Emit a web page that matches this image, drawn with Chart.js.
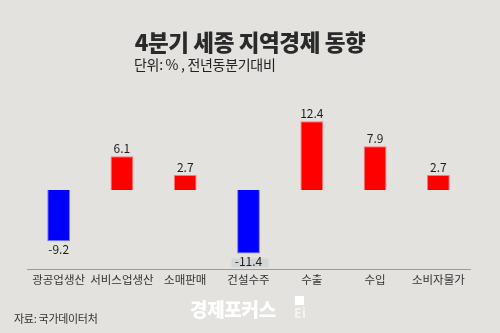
<!DOCTYPE html>
<html><head><meta charset="utf-8">
<script src="https://cdn.jsdelivr.net/npm/chart.js@4.4.1/dist/chart.umd.min.js"></script>
<style>
html,body{margin:0;padding:0;background:#e3e2de;}
#wrap{position:relative;width:500px;height:333px;overflow:hidden;background:#e3e2de;font-family:"Noto Sans CJK KR","Noto Sans",sans-serif;}
canvas{position:absolute;left:0;top:0;}
.t{position:absolute;white-space:nowrap;}
#title{left:0;width:500px;text-align:center;top:25px;font-size:22.5px;font-weight:800;color:#2a2a2a;letter-spacing:-0.4px;}
#sub{left:134px;top:54px;font-size:14px;color:#222;letter-spacing:-0.3px;}
#src{left:14px;top:310px;font-size:11px;color:#333;letter-spacing:-0.3px;}
#wm{left:190px;top:295px;font-size:19px;font-weight:900;color:#ffffff;letter-spacing:-0.3px;}
#wmi{position:absolute;left:295px;top:296px;width:9px;height:9px;background:#ffffff;}
#wmt{left:294px;top:303px;font-size:13px;font-weight:700;color:#f4f4f2;}
</style></head>
<body><div id="wrap">
<canvas id="c" width="500" height="333"></canvas>
<div class="t" id="title">4분기 세종 지역경제 동향</div>
<div class="t" id="sub">단위: % , 전년동분기대비</div>
<div class="t" id="src">자료: 국가데이터처</div>
<div class="t" id="wm">경제포커스</div>
<div id="wmi"></div>
<div class="t" id="wmt">Ei</div>
</div>
<script>
const categories = ["광공업생산","서비스업생산","소매판매","건설수주","수출","수입","소비자물가"];
const values = [-9.2, 6.1, 2.7, -11.4, 12.4, 7.9, 2.7];
const valueLabels = ["-9.2","6.1","2.7","-11.4","12.4","7.9","2.7"];

const labelPlugin = {
  id:'valLabels',
  afterDatasetsDraw(chart){
    const ctx = chart.ctx;
    const meta = chart.getDatasetMeta(0);
    ctx.save();
    ctx.font = '12px "Noto Sans CJK KR","Noto Sans",sans-serif';
    ctx.fillStyle = '#1e1e1e';
    ctx.textAlign = 'center';
    meta.data.forEach((bar,i)=>{
      const v = values[i];
      const txt = valueLabels[i];
      if (v >= 0){
        ctx.textBaseline = 'bottom';
        ctx.fillText(txt, bar.x, bar.y - 2);
      } else {
        ctx.textBaseline = 'top';
        if (i === 3){
          ctx.fillStyle = '#d3d6d6';
          ctx.fillRect(bar.x - 17, bar.y + 5, 37, 9);
          ctx.fillStyle = '#1e1e1e';
        }
        ctx.fillText(txt, bar.x, bar.y + 2);
      }
    });
    ctx.restore();
  }
};

new Chart(document.getElementById('c'), {
  type:'bar',
  data:{
    labels: categories,
    datasets:[{
      data: values,
      backgroundColor: values.map(v => v>=0 ? '#ff0000' : '#0000ff'),
      borderColor: values.map(v => v>=0 ? 'rgba(255,120,120,1)' : 'rgba(120,120,255,1)'),
      borderWidth: 1,
      categoryPercentage: 1.0,
      barPercentage: 0.36
    }]
  },
  options:{
    responsive:false,
    animation:false,
    devicePixelRatio:1,
    layout:{padding:{left:27,right:30,top:100,bottom:44}},
    plugins:{legend:{display:false},tooltip:{enabled:false},title:{display:false}},
    scales:{
      y:{display:false,min:-14.2,max:16.2},
      x:{
        afterFit:(s)=>{ s.height = 20; },
        grid:{display:false,drawTicks:false},
        border:{display:true,color:'#9a9a9a',width:1},
        ticks:{color:'#333',font:{size:11.5,family:'"Noto Sans CJK KR","Noto Sans",sans-serif'},padding:4,maxRotation:0,autoSkip:false}
      }
    }
  },
  plugins:[labelPlugin]
});
</script>
</body></html>
